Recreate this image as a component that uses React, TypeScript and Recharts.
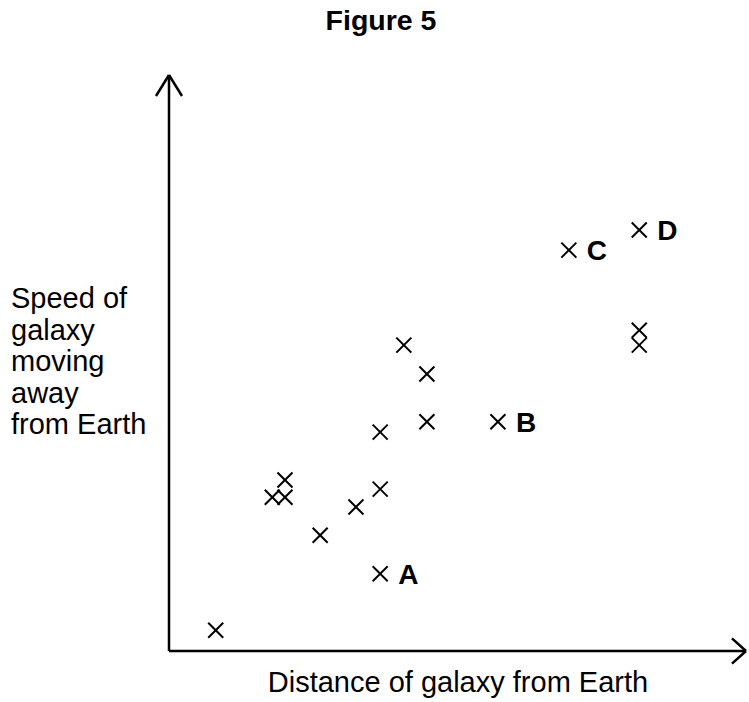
import React from 'react';
import { ScatterChart, Scatter, XAxis, YAxis, ReferenceLine } from 'recharts';

const xValues = [8.1, 17.9, 20.1, 20.1, 26.2, 32.4, 36.6, 36.6, 36.6, 40.7, 44.7, 44.7, 57.0, 69.3, 81.5, 81.5, 81.5];
const yValues = [3.6, 26.7, 29.7, 26.7, 20.1, 25.0, 28.1, 13.4, 38.0, 53.1, 48.1, 39.8, 39.8, 69.6, 73.1, 55.7, 53.1];
const pointLabels = ['', '', '', '', '', '', '', 'A', '', '', '', '', 'B', 'C', 'D', '', ''];

const title = 'Figure 5';
const xLabel = 'Distance of galaxy from Earth';
const yLabelLines = ['Speed of', 'galaxy', 'moving', 'away', 'from Earth'];

const data = xValues.map((x, i) => ({ x, y: yValues[i], label: pointLabels[i] }));

const FONT = '"Liberation Sans", Arial, sans-serif';

const Cross = (props: any) => {
  const { cx, cy, payload } = props;
  const h = 7.5;
  return (
    <g>
      <line x1={cx - h} y1={cy - h} x2={cx + h} y2={cy + h} stroke="#000" strokeWidth={2} />
      <line x1={cx - h} y1={cy + h} x2={cx + h} y2={cy - h} stroke="#000" strokeWidth={2} />
      {payload && payload.label ? (
        <text x={cx + 18} y={cy + 10} fontFamily={FONT} fontWeight="bold" fontSize={28} fill="#000">
          {payload.label}
        </text>
      ) : null}
    </g>
  );
};

const axisStroke = { stroke: '#000', strokeWidth: 2.5 };

export default function App() {
  return (
    <div style={{ position: 'absolute', left: 0, top: 0, width: 749, height: 702, background: '#fff' }}>
      <ScatterChart width={749} height={702} margin={{ top: 75, left: 169, right: 3, bottom: 51 }}>
        <XAxis type="number" dataKey="x" domain={[0, 100]} hide />
        <YAxis type="number" dataKey="y" domain={[0, 100]} hide />
        <ReferenceLine segment={[{ x: 0, y: 0 }, { x: 0, y: 100 }]} ifOverflow="visible" {...axisStroke} />
        <ReferenceLine segment={[{ x: -2.25, y: 96.35 }, { x: 0, y: 100 }]} ifOverflow="visible" {...axisStroke} />
        <ReferenceLine segment={[{ x: 2.25, y: 96.35 }, { x: 0, y: 100 }]} ifOverflow="visible" {...axisStroke} />
        <ReferenceLine segment={[{ x: 0, y: 0 }, { x: 100, y: 0 }]} ifOverflow="visible" {...axisStroke} />
        <ReferenceLine segment={[{ x: 97.57, y: 2.2 }, { x: 100, y: 0 }]} ifOverflow="visible" {...axisStroke} />
        <ReferenceLine segment={[{ x: 97.57, y: -2.2 }, { x: 100, y: 0 }]} ifOverflow="visible" {...axisStroke} />
        <Scatter data={data} shape={<Cross />} isAnimationActive={false} />
      </ScatterChart>
      <svg width={749} height={702} style={{ position: 'absolute', left: 0, top: 0, pointerEvents: 'none' }}>
        <text x={381} y={30} textAnchor="middle" fontFamily={FONT} fontWeight="bold" fontSize={28.5} fill="#000">
          {title}
        </text>
        {yLabelLines.map((line, i) => (
          <text key={line} x={11} y={308 + i * 31.5} fontFamily={FONT} fontSize={29} fill="#000">
            {line}
          </text>
        ))}
        <text x={458} y={692} textAnchor="middle" fontFamily={FONT} fontSize={29} fill="#000">
          {xLabel}
        </text>
      </svg>
    </div>
  );
}
